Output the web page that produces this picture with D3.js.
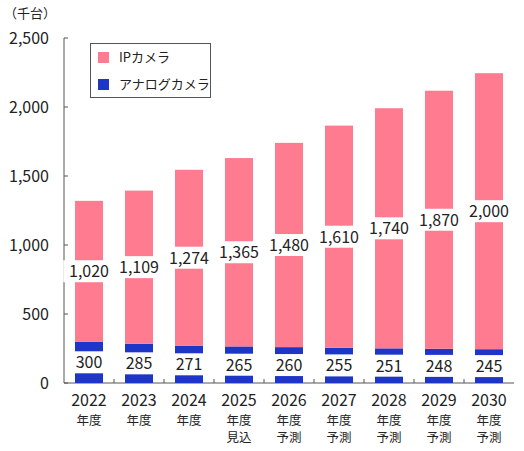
<!DOCTYPE html><html><head><meta charset="utf-8"><script src="https://cdn.jsdelivr.net/npm/d3@7"></script>
<style>body{margin:0;background:#fff}text{font-family:"Noto Sans CJK JP","Noto Sans",sans-serif;fill:#222}</style></head><body><svg id="c" width="524" height="451"></svg><script>
const years=["2022","2023","2024","2025","2026","2027","2028","2029","2030"];
const sub=["年度","年度","年度","年度","年度","年度","年度","年度","年度"];
const sub2=["","","","見込","予測","予測","予測","予測","予測"];
const analog=[300,285,271,265,260,255,251,248,245];
const ip=[1020,1109,1274,1365,1480,1610,1740,1870,2000];
const yTicks=[0,500,1000,1500,2000,2500];
const svg=d3.select("#c");
const x=d3.scaleBand().domain(years).range([64,514]).paddingInner(0.44).paddingOuter(0.22);
const y=d3.scaleLinear().domain([0,2500]).range([383,38]);
const fmt=d3.format(",");
svg.append("line").attr("x1",64).attr("x2",64).attr("y1",38).attr("y2",383).attr("stroke","#555");
svg.append("line").attr("x1",64).attr("x2",514).attr("y1",383).attr("y2",383).attr("stroke","#555");
yTicks.forEach(t=>{svg.append("line").attr("x1",64).attr("x2",68).attr("y1",y(t)).attr("y2",y(t)).attr("stroke","#555");
svg.append("text").attr("x",49).attr("y",y(t)+6).attr("text-anchor","end").attr("font-size",16).text(fmt(t));});
years.forEach((d,i)=>{if(i>0){const xx=x(d)-x.step()*x.paddingInner()/2;svg.append("line").attr("x1",xx).attr("x2",xx).attr("y1",383).attr("y2",379).attr("stroke","#555");}});
svg.append("text").attr("x",4).attr("y",18).attr("font-size",13).text("（千台）");
const g=svg.append("g");
years.forEach((d,i)=>{
 const bx=x(d),bw=x.bandwidth(),cx=bx+bw/2;
 g.append("rect").attr("x",bx).attr("width",bw).attr("y",y(analog[i])).attr("height",y(0)-y(analog[i])).attr("fill","#1e36c8");
 g.append("rect").attr("x",bx).attr("width",bw).attr("y",y(analog[i]+ip[i])).attr("height",y(analog[i])-y(analog[i]+ip[i])).attr("fill","#ff7b8f");
 [[analog[i]/2,analog[i]],[analog[i]+ip[i]/2,ip[i]]].forEach(([v,val])=>{
  const t=fmt(val),w=t.length*9.5+4;
  g.append("rect").attr("x",cx-w/2).attr("y",y(v)-11).attr("width",w).attr("height",22).attr("fill","#fff");
  g.append("text").attr("x",cx).attr("y",y(v)+6).attr("text-anchor","middle").attr("font-size",16).text(t);
 });
 svg.append("text").attr("x",cx).attr("y",406).attr("text-anchor","middle").attr("font-size",16).text(d);
 svg.append("text").attr("x",cx).attr("y",425).attr("text-anchor","middle").attr("font-size",12.5).text(sub[i]);
 if(sub2[i])svg.append("text").attr("x",cx).attr("y",442).attr("text-anchor","middle").attr("font-size",12.5).text(sub2[i]);
});
const L=svg.append("g");
L.append("rect").attr("x",90.5).attr("y",43.5).attr("width",120).attr("height",54).attr("fill","#fff").attr("stroke","#555");
[["IPカメラ","#ff7b8f"],["アナログカメラ","#1e36c8"]].forEach(([n,c],k)=>{
 L.append("rect").attr("x",98).attr("y",52+k*27).attr("width",11).attr("height",11).attr("fill",c);
 L.append("text").attr("x",119).attr("y",62+k*27).attr("font-size",13).text(n);
});
</script></body></html>
